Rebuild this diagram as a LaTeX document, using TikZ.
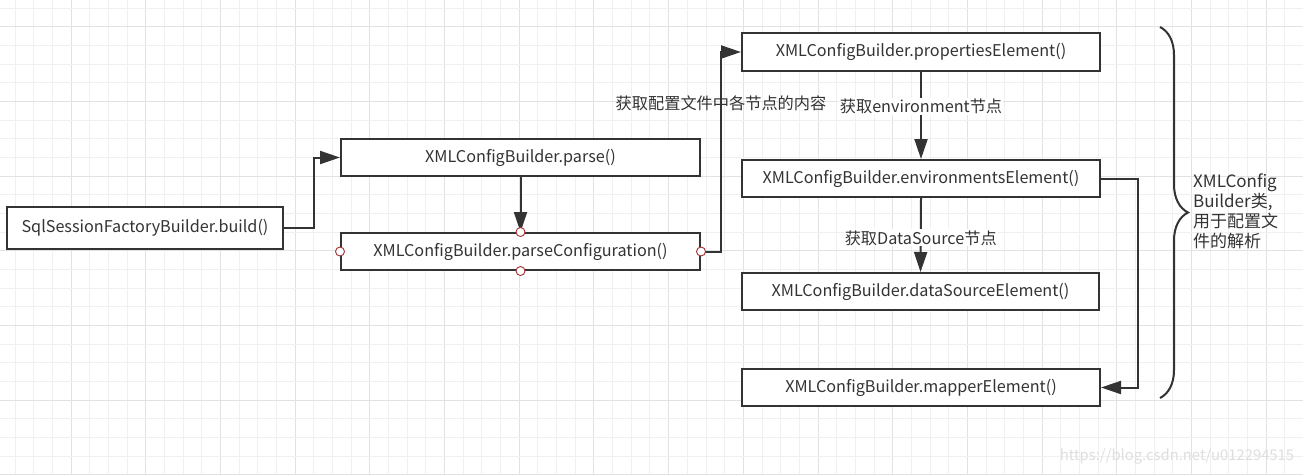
\documentclass[tikz,border=0pt]{standalone}
\usepackage{fontspec}
\setmainfont{Noto Sans CJK SC}
\usetikzlibrary{arrows.meta,decorations.pathreplacing}
\definecolor{ink}{HTML}{333333}
\definecolor{gminor}{HTML}{F0F0F0}
\definecolor{gmajor}{HTML}{E2E2E2}
\definecolor{port}{HTML}{A03030}
\tikzset{
  box/.style={draw=ink, line width=2pt, fill=white, text=ink, inner sep=0pt,
    font=\fontsize{16.2}{19}\selectfont},
  conn/.style={draw=ink, line width=2pt, -{Triangle[length=20pt,width=13pt]}},
  lbl/.style={text=ink, font=\fontsize{16.2}{19}\selectfont, inner sep=1pt},
  portc/.style={circle, draw=port, fill=white, line width=0.9pt, minimum size=9pt, inner sep=0pt},
}
\begin{document}
\begin{tikzpicture}[x=1pt,y=-1pt]
\fill[white] (0,0) rectangle (1303,475);
\useasboundingbox (0,0) rectangle (1303,475);
% grid
\foreach \i in {0,...,69} {
  \pgfmathsetmacro{\xx}{15.2+\i*18.67}
  \pgfmathtruncatemacro{\m}{mod(\i,4)}
  \ifnum\m=3 \draw[gmajor, line width=1pt] (\xx,0) -- (\xx,475);
  \else \draw[gminor, line width=1pt] (\xx,0) -- (\xx,475); \fi
}
\foreach \j in {0,...,25} {
  \pgfmathsetmacro{\yy}{8+\j*18.67}
  \pgfmathtruncatemacro{\m}{mod(\j,4)}
  \ifnum\m=1 \draw[gmajor, line width=1pt] (0,\yy) -- (1303,\yy);
  \else \draw[gminor, line width=1pt] (0,\yy) -- (1303,\yy); \fi
}
% boxes
\node[box, minimum width=276pt, minimum height=42pt] (build) at (145,228) {SqlSessionFactoryBuilder.build()};
\node[box, minimum width=359pt, minimum height=37pt] (parse) at (520.5,157.5) {XMLConfigBuilder.parse()};
\node[box, minimum width=359pt, minimum height=37pt] (pcfg) at (520.5,251.5) {XMLConfigBuilder.parseConfiguration()};
\node[box, minimum width=358pt, minimum height=38pt] (props) at (921,52) {XMLConfigBuilder.propertiesElement()};
\node[box, minimum width=358pt, minimum height=37pt] (envs) at (921,178.5) {XMLConfigBuilder.environmentsElement()};
\node[box, minimum width=357pt, minimum height=37pt] (ds) at (920.5,291.5) {XMLConfigBuilder.dataSourceElement()};
\node[box, minimum width=358pt, minimum height=37pt] (mapper) at (921,387.5) {XMLConfigBuilder.mapperElement()};
% connectors
\draw[conn] (build.east) -- ++(30,0) |- (parse.west);
\draw[conn] (parse.south) -- (pcfg.north);
\draw[conn] (pcfg.east) -- ++(20,0) |- (props.west);
\node[lbl] (l1) at (721,103) {获取配置文件中各节点的内容};
\draw[conn] (props.south) -- (envs.north) node[lbl, fill=white, pos=0.4] (l2) {获取environment节点};
\draw[conn] (envs.south) -- (ds.north) node[lbl, fill=white, pos=0.54] (l3) {获取DataSource节点};
\draw[conn] (envs.east) -- ++(37,0) |- (mapper.east);
% ports
\node[portc] (p1) at (pcfg.west) {};
\node[portc] (p2) at (pcfg.east) {};
\node[portc] (p3) at (pcfg.north) {};
\node[portc] (p4) at (pcfg.south) {};
% brace
\draw[ink, line width=2pt, decorate, decoration={brace, amplitude=28pt, aspect=0.5}] (1160,27) -- (1160,398);
\node[lbl, anchor=north west, align=left, font=\fontsize{17}{20}\selectfont, inner sep=0pt] (note) at (1193,174)
  {XMLConfig\\Builder类,\\用于配置文\\件的解析};
% watermark
\node[text=black!13, font=\fontsize{14.8}{16}\selectfont, inner sep=0pt] (wm) at (1177,456) {https://blog.csdn.net/u012294515};
\end{tikzpicture}
\end{document}
